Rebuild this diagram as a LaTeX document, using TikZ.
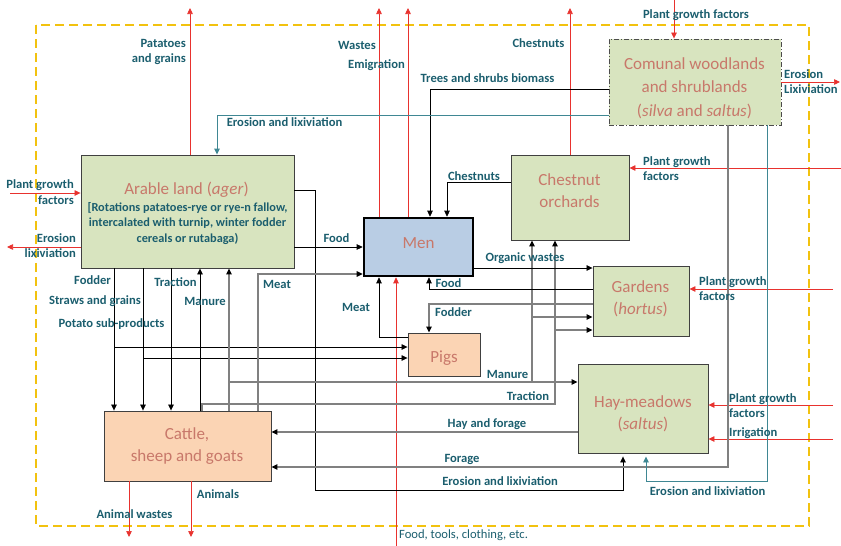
\documentclass[tikz,border=0pt]{standalone}
\usepackage{fontspec}
\setmainfont{Carlito}
\usetikzlibrary{
    arrows.meta
}
\definecolor{lbltxt}{HTML}{1B5E6E}
\definecolor{ttltxt}{HTML}{C8786A}
\definecolor{fgreen}{HTML}{D8E4BF}
\definecolor{fpeach}{HTML}{FBD4B4}
\definecolor{fblue}{HTML}{B9CDE4}
\definecolor{fred}{HTML}{E8322E}
\definecolor{fteal}{HTML}{3F8793}
\definecolor{fyellow}{HTML}{F2C20F}

\begin{document}
\begin{tikzpicture}
        [
            x=1pt, y=-1pt,
            fieldbox/.style = {draw=black!75, line width=0.9pt, fill=fgreen, rectangle, inner sep=0pt},
            stockbox/.style = {fieldbox, fill=fpeach},
            ttl/.style = {inner sep=0pt, align=center, text=ttltxt, font=\fontsize{17}{22}\selectfont},
            subtxt/.style = {inner sep=0pt, align=center, text=lbltxt, font=\fontsize{12.3}{15.5}\selectfont\bfseries},
            lbl/.style = {inner sep=0pt, align=center, text=lbltxt, font=\fontsize{12.6}{15.5}\selectfont\bfseries},
            redflow/.style = {fred, line width=0.7pt, -{Triangle[length=6pt,width=5.5pt]}},
            tealflow/.style = {fteal, line width=0.9pt, -{Triangle[length=6pt,width=5.5pt]}},
            blkflow/.style = {black, line width=0.7pt, -{Triangle[length=6pt,width=5.5pt]}},
            gryflow/.style = {black!50, line width=1.1pt, -{Triangle[length=6pt,width=5.5pt,black]}}
        ]
        \useasboundingbox (0,0) rectangle (841,546);
        \draw[fyellow, line width=2.2pt, dash pattern=on 9pt off 5pt] (36,25) rectangle (809,526);

        % boxes
        \node[fieldbox, minimum width=213pt, minimum height=113pt] (arable) at (187.5,211.5) {};
        \node[fieldbox, fill=fblue, draw=black, line width=2.6pt, minimum width=109pt, minimum height=58pt] (men) at (418.5,247) {};
        \node[fieldbox, minimum width=118pt, minimum height=85pt] (chestnut) at (570,197.5) {};
        \node[fieldbox, draw=black!70, dash pattern=on 5pt off 2pt on 1pt off 2pt, minimum width=172pt, minimum height=86pt] (comunal) at (695,82) {};
        \node[fieldbox, minimum width=96pt, minimum height=70pt] (gardens) at (641,301) {};
        \node[stockbox, minimum width=72pt, minimum height=43pt] (pigs) at (444,354.5) {};
        \node[fieldbox, minimum width=130pt, minimum height=89pt] (hay) at (643,408.5) {};
        \node[stockbox, minimum width=167pt, minimum height=70pt] (cattle) at (187.5,446) {};

        % box titles
        \node[ttl] (arabletitle) at (186.5,190) {Arable land (\textit{ager})};
        \node[subtxt] (arablerot) at (187.5,223.5) {[Rotations patatoes-rye or rye-n fallow,\\ intercalated with turnip, winter fodder\\ cereals or rutabaga)};
        \node[ttl] (mentitle) at (418.5,243) {Men};
        \node[ttl] (chestnuttitle) at (569.5,190.5) {Chestnut\\orchards};
        \node[ttl, font=\fontsize{17}{23.5}\selectfont] (comunaltitle) at (694.5,88) {Comunal woodlands\\and shrublands\\(\textit{silva} and \textit{saltus})};
        \node[ttl] (gardenstitle) at (640.5,299) {Gardens\\(\textit{hortus})};
        \node[ttl] (pigstitle) at (444,358.5) {Pigs};
        \node[ttl] (haytitle) at (643,414) {Hay-meadows\\(\textit{saltus})};
        \node[ttl] (cattletitle) at (187,446) {Cattle,\\sheep and goats};

        % outside flows
        \coordinate (potout) at (190,8);
        \coordinate (wasteout) at (379,8);
        \coordinate (emigout) at (408,8);
        \coordinate (chestout) at (570,8);
        \coordinate (pgfwood) at (674,0);
        \coordinate (woodout) at (840,82);
        \coordinate (pgfchest) at (841,168);
        \coordinate (pgfarable) at (10,193);
        \coordinate (arableout) at (7,247);
        \coordinate (pgfgarden) at (833,289);
        \coordinate (pgfhay) at (833,405);
        \coordinate (irrig) at (833,439);
        \coordinate (goodsin) at (396,546);
        \coordinate (wasteanim) at (129,537);
        \coordinate (animout) at (191,537);
        \draw[redflow] (arable.north -| potout) -- (potout);
        \draw[redflow] (men.north -| wasteout) -- (wasteout);
        \draw[redflow] (men.north -| emigout) -- (emigout);
        \draw[redflow] (chestnut.north -| chestout) -- (chestout);
        \draw[redflow] (pgfwood) -- (comunal.north -| pgfwood);
        \draw[redflow] (comunal.east |- woodout) -- (woodout);
        \draw[redflow] (pgfchest) -- (chestnut.east |- pgfchest);
        \draw[redflow] (pgfarable) -- (arable.west |- pgfarable);
        \draw[redflow] (arable.west |- arableout) -- (arableout);
        \draw[redflow] (pgfgarden) -- (gardens.east |- pgfgarden);
        \draw[redflow] (pgfhay) -- (hay.east |- pgfhay);
        \draw[redflow] (irrig) -- (hay.east |- irrig);
        \draw[redflow] (goodsin) -- (men.south -| goodsin);
        \draw[redflow] (cattle.south -| wasteanim) -- (wasteanim);
        \draw[redflow] (cattle.south -| animout) -- (animout);

        % arable land
        \draw[blkflow] (arable.east |- 0,247) -- (men.west |- 0,247);
        \draw[blkflow, shorten >=3pt] (arable.east |- 0,190) -| (315,490) -| (hay.south -| 623,0);
        \draw[blkflow] (arable.south -| 114,0) -- (cattle.north -| 114,0);
        \draw[blkflow] (arable.south -| 114,0) |- (pigs.west |- 0,347);
        \draw[blkflow] (arable.south -| 143,0) -- (cattle.north -| 143,0);
        \draw[blkflow] (arable.south -| 143,0) |- (pigs.west |- 0,358);
        \draw[blkflow] (arable.south -| 171,0) -- (cattle.north -| 171,0);

        % cattle
        \draw[blkflow] (cattle.north -| 200,0) -- (arable.south -| 200,0);
        \draw[gryflow] (cattle.north -| 229,0) -- (arable.south -| 229,0);
        \draw[gryflow] (cattle.north -| 258,0) |- (men.west |- 0,274);
        \draw[gryflow] (cattle.north -| 202,0) |- (555,404) -- (chestnut.south -| 555,0);
        \draw[gryflow] (cattle.north -| 202,0) |- (555,404) |- (gardens.west |- 0,330);
        \draw[gryflow] (cattle.north -| 229,0) |- (hay.west |- 0,382);
        \draw[gryflow] (cattle.north -| 229,0) |- (532,382) -- (chestnut.south -| 532,0);
        \draw[gryflow] (cattle.north -| 229,0) |- (532,382) |- (gardens.west |- 0,317);

        % men, gardens, pigs
        \draw[blkflow] (men.east |- 0,268) -- (gardens.west |- 0,268);
        \draw[blkflow] (gardens.west |- 0,289) -| (men.south -| 429,0);
        \draw[gryflow] (gardens.west |- 0,304) -| (pigs.north -| 429,0);
        \draw[blkflow] (pigs.west |- 0,337) -| (men.south -| 379,0);

        % woodlands, orchards, meadows
        \draw[blkflow] (comunal.west |- 0,89) -| (men.north -| 430,0);
        \draw[blkflow] (chestnut.west |- 0,182) -| (men.north -| 447,0);
        \draw[tealflow] (comunal.west |- 0,115) -| (arable.north -| 217,0);
        \draw[gryflow] (comunal.south -| 728,0) |- (cattle.east |- 0,467);
        \draw[tealflow, shorten >=3pt] (comunal.south -| 767,0) |- (646,481) -- (hay.south -| 646,0);
        \draw[gryflow] (hay.west |- 0,432) -- (cattle.east |- 0,432);

        % labels
        \node[lbl, anchor=east, align=right] (lpotato) at (186,52) {Patatoes\\and grains};
        \node[lbl] (lwaste) at (357,45) {Wastes};
        \node[lbl] (lemig) at (376.5,65) {Emigration};
        \node[lbl] (lchestout) at (538.5,43) {Chestnuts};
        \node[lbl] (lpgfwood) at (696,15) {Plant growth factors};
        \node[lbl, anchor=west, align=left] (lwoodout) at (784,81.5) {Erosion\\Lixiviation};
        \node[lbl, anchor=west, align=left] (lpgfchest) at (643,168.5) {Plant growth\\factors};
        \node[lbl] (ltrees) at (487.5,78) {Trees and shrubs biomass};
        \node[lbl] (lerotop) at (284.5,122) {Erosion and lixiviation};
        \node[lbl] (lchestin) at (474,176) {Chestnuts};
        \node[lbl, anchor=east, align=right] (lpgfarable) at (74,192) {Plant growth\\factors};
        \node[lbl, anchor=east, align=right] (larableout) at (76,245.5) {Erosion\\lixiviation};
        \node[lbl] (lfood) at (336.5,238) {Food};
        \node[lbl] (lfodder) at (92.5,280) {Fodder};
        \node[lbl] (lstraw) at (95,301) {Straws and grains};
        \node[lbl] (lpotsub) at (111.5,324) {Potato sub-products};
        \node[lbl] (ltraction) at (175.5,282) {Traction};
        \node[lbl] (lmanure) at (205,301) {Manure};
        \node[lbl] (lmeat) at (277,284) {Meat};
        \node[lbl] (lpigmeat) at (356,307) {Meat};
        \node[lbl] (lgardenfood) at (448.5,283) {Food};
        \node[lbl] (lpigfodder) at (453.5,312) {Fodder};
        \node[lbl] (lorganic) at (525,258) {Organic wastes};
        \node[lbl] (lhaymanure) at (507.5,374) {Manure};
        \node[lbl] (lhaytraction) at (528,396) {Traction};
        \node[lbl] (lhay) at (487,424) {Hay and forage};
        \node[lbl] (lforage) at (462,459) {Forage};
        \node[lbl] (lerohay) at (500,481) {Erosion and lixiviation};
        \node[lbl] (lerowood) at (707.5,491) {Erosion and lixiviation};
        \node[lbl, anchor=west, align=left] (lpgfgarden) at (699,288.5) {Plant growth\\factors};
        \node[lbl, anchor=west, align=left] (lpgfhay) at (729,405.5) {Plant growth\\factors};
        \node[lbl, anchor=west] (lirrig) at (729,433) {Irrigation};
        \node[lbl] (lanimwaste) at (134.5,514) {Animal wastes};
        \node[lbl] (lanim) at (218,494) {Animals};
        \node[lbl, anchor=west, font=\fontsize{12.6}{15.5}\selectfont] (lgoods) at (399,535) {Food, tools, clothing, etc.};
    \end{tikzpicture}
\end{document}
